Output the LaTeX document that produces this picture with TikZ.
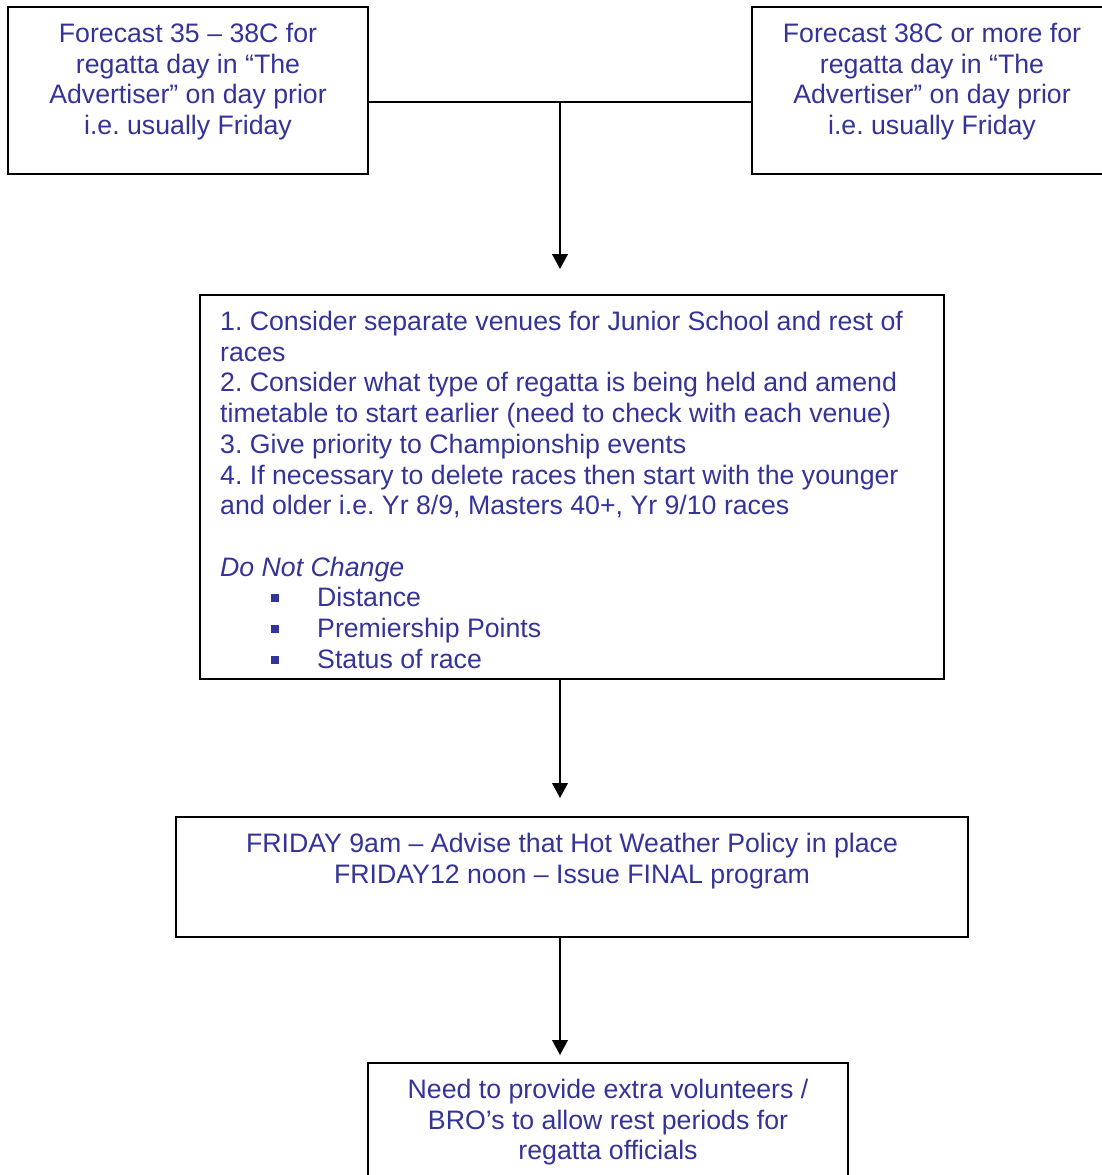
\documentclass[tikz,border=0pt]{standalone}
\usepackage{fontspec}
\setmainfont{Liberation Sans}
\usetikzlibrary{arrows.meta}
\definecolor{textblue}{RGB}{51,51,153}
\frenchspacing
\begin{document}
\begin{tikzpicture}[x=1pt,y=-1pt,
  box/.style={draw=black,line width=2pt,inner sep=0pt,outer sep=0pt,anchor=north west},
  txt/.style={text=textblue,inner sep=0pt,font=\fontsize{26.7}{30.7}\selectfont\frenchspacing},
  arr/.style={line width=2pt,-{Triangle[width=15.6pt,length=15pt]}}]
\useasboundingbox (0,0) rectangle (1102,1175);
% boxes
\node[box,minimum width=360pt,minimum height=167pt] (L) at (8,7) {};
\node[box,minimum width=360pt,minimum height=167pt] (R) at (752,7) {};
\node[box,minimum width=744pt,minimum height=384pt] (M) at (200,295) {};
\node[box,minimum width=792pt,minimum height=120pt] (F) at (176,817) {};
\node[box,minimum width=480pt,minimum height=127pt] (B) at (368,1063) {};
% texts
\node[txt,align=center,anchor=north] (Lt) at (188,23) {Forecast 35 – 38C for\\regatta day in “The\\Advertiser” on day prior\\i.e. usually Friday};
\node[txt,align=center,anchor=north] (Rt) at (932,23) {Forecast 38C or more for\\regatta day in “The\\Advertiser” on day prior\\i.e. usually Friday};
\node[txt,align=left,anchor=north west] (Mt) at (220,311) {1. Consider separate venues for Junior School and rest of\\races\\2. Consider what type of regatta is being held and amend\\timetable to start earlier (need to check with each venue)\\3. Give priority to Championship events\\4. If necessary to delete races then start with the younger\\and older i.e. Yr 8/9, Masters 40+, Yr 9/10 races\\[30.7pt]
\textit{Do Not Change}\\
\hspace*{50.5pt}\raisebox{4.5pt}{\rule{8pt}{8pt}}\hspace*{38.5pt}Distance\\
\hspace*{50.5pt}\raisebox{4.5pt}{\rule{8pt}{8pt}}\hspace*{38.5pt}Premiership Points\\
\hspace*{50.5pt}\raisebox{4.5pt}{\rule{8pt}{8pt}}\hspace*{38.5pt}Status of race};
\node[txt,align=center,anchor=north] (Ft) at (572,833) {FRIDAY 9am – Advise that Hot Weather Policy in place\\FRIDAY12 noon – Issue FINAL program};
\node[txt,align=center,anchor=north] (Bt) at (608,1079) {Need to provide extra volunteers /\\BRO’s to allow rest periods for\\regatta officials};
% connectors
\coordinate (J) at (560,102);
\draw[line width=2pt] (J -| L.east) -- (J -| R.west);
\draw[arr,shorten >=26pt] (J) -- (J |- M.north);
\draw[arr,shorten >=19pt] (J |- M.south) -- (J |- F.north);
\draw[arr,shorten >=8pt] (J |- F.south) -- (J |- B.north);
\end{tikzpicture}
\end{document}
